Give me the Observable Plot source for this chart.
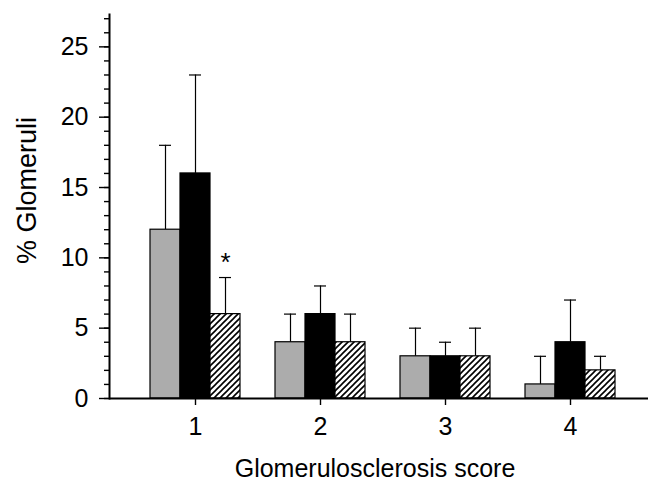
<!DOCTYPE html>
<html><head><meta charset="utf-8">
<script src="https://cdn.jsdelivr.net/npm/d3@7"></script>
<script src="https://cdn.jsdelivr.net/npm/@observablehq/plot@0.6"></script>
<style>
html,body{margin:0;padding:0;background:#fff;}
#chart{width:650px;height:489px;}
</style></head><body><div id="chart"></div>
<script>
// ---- data ----
const scores = [1, 2, 3, 4];
const seriesNames = ["Group A", "Group B", "Group C"];
const groupA = [12, 4, 3, 1];
const groupAUpper = [18, 6, 5, 3];
const groupB = [16, 6, 3, 4];
const groupBUpper = [23, 8, 4, 7];
const groupC = [6, 4, 3, 2];
const groupCUpper = [8.6, 6, 5, 3];
const significance = [{score: 1, series: 2, label: "*"}];
const yMajorTicks = [0, 5, 10, 15, 20, 25];
const yMinorTicks = [0,1,2,3,4,5,6,7,8,9,10,11,12,13,14,15,16,17,18,19,20,21,22,23,24,25,26,27];
const xTicks = [1, 2, 3, 4];
const xTitle = "Glomerulosclerosis score";
const yTitle = "% Glomeruli";

const values = [groupA, groupB, groupC];
const uppers = [groupAUpper, groupBUpper, groupCUpper];
const rows = scores.flatMap((s, j) => values.map((v, i) => ({
  score: s, series: i, name: seriesNames[i], value: v[j], upper: uppers[i][j]
})));

const BW = 0.24, CAP = 0.048;
const xc = d => d.score + (d.series - 1) * BW;
const fills = ["#acacac", "#000000", "url(#hatch)"];
const sig = significance.map(d => ({...d, upper: uppers[d.series][scores.indexOf(d.score)]}));

const barMarks = [0, 1, 2].map(i => Plot.rect(rows.filter(d => d.series === i), {
  x1: d => xc(d) - BW / 2, x2: d => xc(d) + BW / 2, y1: d => 0, y2: "value",
  fill: fills[i], stroke: "black", strokeWidth: 1.2
}));

const svg = Plot.plot({
  width: 650, height: 489,
  marginLeft: 109, marginRight: 2, marginTop: 14, marginBottom: 91,
  style: {fontFamily: "'Liberation Sans', Arial, Helvetica, sans-serif", color: "black", background: "white"},
  x: {type: "linear", domain: [0.312, 4.624]},
  y: {domain: [0, 27.3]},
  marks: [
    Plot.ruleX(rows, {x: xc, y1: "value", y2: "upper", stroke: "black", strokeWidth: 1.2}),
    Plot.ruleY(rows, {y: "upper", x1: d => xc(d) - CAP, x2: d => xc(d) + CAP, stroke: "black", strokeWidth: 1.2}),
    ...barMarks,
    Plot.text(sig, {x: xc, y: "upper", text: "label", dy: -15, fontSize: 26, fontWeight: 300, fill: "black"}),
    Plot.axisY(yMinorTicks, {tickSize: 5, tickFormat: () => "", strokeWidth: 1.4, label: null}),
    Plot.axisY(yMajorTicks, {tickSize: 10, tickPadding: 11, strokeWidth: 1.4, fontSize: 25,
      tickFormat: d3.format("d"), label: null}),
    Plot.axisX(xTicks, {tickSize: 7, tickPadding: 12, strokeWidth: 1.4, fontSize: 25,
      tickFormat: d3.format("d"), label: null}),
    Plot.text([yTitle], {frameAnchor: "left", rotate: -90, dx: -82, dy: -16, fontSize: 27,
      textAnchor: "middle", lineAnchor: "middle", fill: "black"}),
    Plot.text([xTitle], {frameAnchor: "bottom", dx: -4, dy: 78, fontSize: 25,
      textAnchor: "middle", lineAnchor: "bottom", fill: "black"}),
    Plot.ruleY([0], {strokeWidth: 2}),
    Plot.frame({anchor: "left", strokeWidth: 2})
  ]
});

const defs = d3.select(svg).insert("defs", ":first-child");
const pat = defs.append("pattern").attr("id", "hatch").attr("patternUnits", "userSpaceOnUse")
  .attr("width", 6).attr("height", 6);
pat.append("rect").attr("width", 6).attr("height", 6).attr("fill", "white");
pat.append("path").attr("d", "M-1,1 L1,-1 M0,6 L6,0 M5,7 L7,5")
  .attr("stroke", "black").attr("stroke-width", 1.6);

document.getElementById("chart").appendChild(svg);
</script></body></html>
